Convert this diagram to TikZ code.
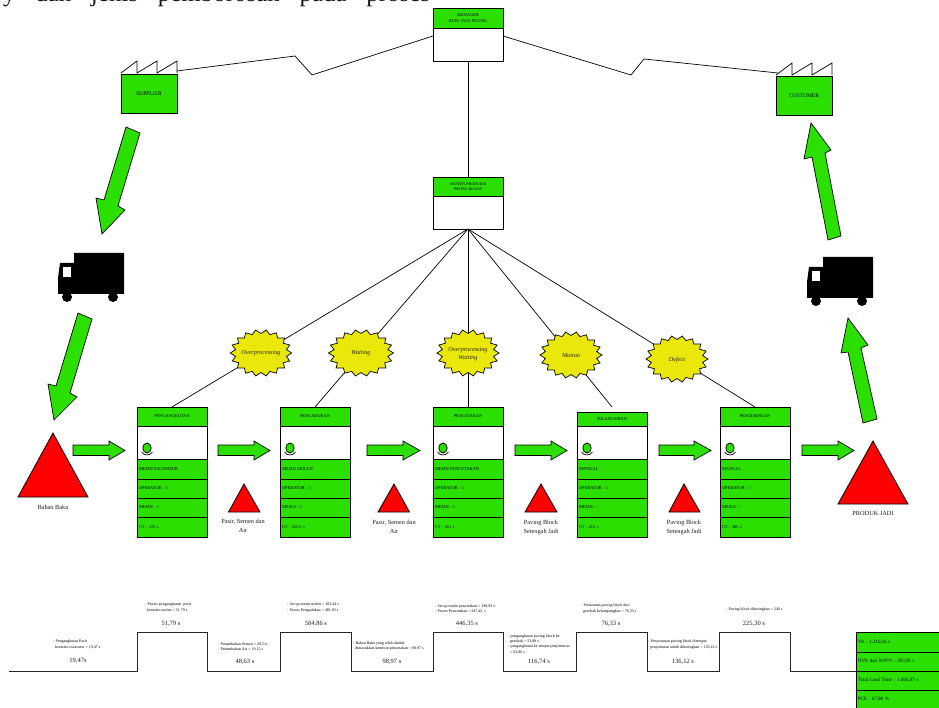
\documentclass[tikz,border=0pt]{standalone}
\usepackage{fontspec}
\setmainfont{Liberation Serif}
\usetikzlibrary{calc}
\definecolor{vsmgreen}{HTML}{2BE000}
\definecolor{vsmyellow}{HTML}{EAE80A}
\tikzset{
  boxbase/.style={draw=black,line width=0.8pt,rectangle,inner sep=0pt,outer sep=0pt,anchor=north west},
  headbox/.style={boxbase,fill=vsmgreen,minimum width=70pt,font=\fontsize{4.3}{5.6}\selectfont,align=center,text=black},
  bodybox/.style={boxbase,fill=white,minimum width=70pt},
  rowbox/.style={boxbase,fill=vsmgreen,text width=66pt,inner xsep=2pt,align=left,font=\fontsize{4.4}{5.5}\selectfont,text=black},
  sumbox/.style={boxbase,fill=vsmgreen,text width=79pt,inner xsep=2pt,align=left,minimum height=19pt,font=\fontsize{5}{6}\selectfont,text=black},
  fatarrow/.style={draw=black,fill=vsmgreen,line width=0.7pt,line join=miter},
  tri/.style={draw=black,fill=red,line width=0.8pt,line join=miter},
  thinline/.style={draw=black,line width=0.7pt},
  burst/.style={draw=black,fill=vsmyellow,line width=0.7pt,line join=miter},
  burstlabel/.style={inner sep=0pt,align=center,font=\fontsize{6.2}{8}\selectfont\itshape,text=black!85!vsmyellow},
  labelsmall/.style={inner sep=0pt,align=center,font=\fontsize{6.3}{9}\selectfont,text=black!90},
  tiny/.style={inner sep=0pt,anchor=west,align=left,font=\fontsize{4}{5.3}\selectfont,text=black},
  timeval/.style={inner sep=0pt,font=\fontsize{6.5}{8}\selectfont,text=black!90},
  factory/.style={boxbase,fill=vsmgreen,minimum width=56pt,minimum height=39pt,font=\fontsize{5.5}{7}\selectfont,text=black},
}
\newcommand{\procbox}[8]{%
  \node[headbox,minimum height={426-#3},] (#1head) at (#2,#3) {#4};
  \node[bodybox,minimum height=33pt] (#1body) at (#2,426) {};
  \node[rowbox,minimum height=20pt] (#1a) at (#2,459) {#5};
  \node[rowbox,minimum height=19pt] (#1b) at (#2,479) {#6};
  \node[rowbox,minimum height=19pt] (#1c) at (#2,498) {#7};
  \node[rowbox,minimum height=20pt] (#1d) at (#2,517) {#8};
  \draw[fill=vsmgreen,line width=0.7pt] (#2+10,448) ellipse (4.2 and 5);
  \draw[line width=0.7pt] (#2+4.5,452) .. controls (#2+7,456) and (#2+13,456) .. (#2+15.5,452);
}
\newcommand{\harrow}[3]{%
  \draw[fatarrow] (#1,445) -- (#2,445) -- (#2,441) -- (#3,450.5) -- (#2,460) -- (#2,455.5) -- (#1,455.5) -- cycle;
}
\newcommand{\burstshape}[4]{%
  \draw[burst] plot[samples=37,domain=0:360] ({#1+#3*(0.92+0.08*cos(18*\x))*cos(\x)},{#2+#4*(0.92+0.08*cos(18*\x))*sin(\x)}) -- cycle;
}
\newcommand{\truck}[2]{%
  \begin{scope}[shift={(#1,#2)}]
    \fill[black] (74,253) -- (124,253) -- (124,294) -- (58,294) -- (58,278) -- (60,263) -- (74,263) -- cycle;
    \fill[black] (67,297) circle (5);
    \fill[black] (113,297) circle (5);
    \fill[white] (63,267) rectangle (71,277);
  \end{scope}
}
\newcommand{\teeth}[2]{%
  \draw[thinline,line join=miter] (#1,#2) -- (#1+16,#2-12) -- (#1+16,#2) -- (#1+36,#2-12) -- (#1+36,#2) -- (#1+56,#2-12) -- (#1+56,#2);
}
\begin{document}
\begin{tikzpicture}[x=1pt,y=-1pt]
\useasboundingbox (0,0) rectangle (939,708);
\clip (0,0) rectangle (939,708);

\node[inner sep=0pt,anchor=base west,font=\fontsize{25}{25}\selectfont,text=black!90] (pagetext) at (3,2)
  {\makebox[427pt][s]{y\hfil dan\hfil jenis\hfil pemborosan\hfil pada\hfil proses}};

\node[bodybox,minimum height=33pt] (manbody) at (433,28) {};
\node[headbox,minimum height=20pt] (manhead) at (433,8) {MANAGER\\RIAU JAYA PAVING};
\node[bodybox,minimum height=33pt] (asbody) at (433,196) {};
\node[headbox,minimum height=19pt,font=\fontsize{4.1}{5.6}\selectfont\itshape] (ashead) at (433,177) {ASISTEN PRODUKSI\\PAVING BLOCK};
\draw[thinline] (manbody.south) -- (ashead.north);

\teeth{121}{73}
\node[factory] (sup) at (121,74) {SUPPLIER};
\teeth{776}{75}
\node[factory] (cus) at (776,76) {COSTUMER};

\coordinate (manl) at (433,36);
\coordinate (manr) at (503,36);
\coordinate (supc) at (177,71);
\coordinate (cusc) at (778,73);
\draw[thinline,line join=miter] (manl) -- (312,75) -- (295,56) -- (supc);
\draw[thinline,line join=miter] (manr) -- (631,75) -- (644,59) -- (cusc);

\procbox{p}{137}{407}{PENGANGKUTAN}{MESIN \textit{ESCAPATOR}}{OPERATOR : 1}{MESIN : 1}{CT : 125 s}
\procbox{q}{280}{407}{PENGADUKAN}{MESIN MOLEN}{OPERATOR : 1}{MESIN : 1}{CT : 525,6 s}
\procbox{r}{433}{407}{PENCETAKAN}{MESIN PENCETAKAN}{OPERATOR : 1}{MESIN : 1}{CT : 351 s}
\procbox{s}{577}{412}{PELANGSIRAN}{MANUAL}{OPERATOR : 1}{MESIN : -}{CT : 215 s}
\procbox{t}{720}{407}{PENGERINGAN}{MANUAL}{OPERATOR : 1}{MESIN : -}{CT : 385 s}

\coordinate (endp) at (172,407);
\coordinate (endq) at (315,407);
\coordinate (endr) at (468,407);
\coordinate (ends) at (612,407);
\coordinate (endt) at (755,407);
\foreach \e in {endp,endq,endr,ends,endt} \draw[thinline] (asbody.south) -- (\e);

\burstshape{261}{353}{30.7}{23.3}
\node[burstlabel] (w1) at (261,353.5) {Overprocessing};
\burstshape{361}{353}{32.5}{23.3}
\node[burstlabel] (w2) at (361,353.5) {Waiting};
\burstshape{468}{353}{31}{23.3}
\node[burstlabel] (w3) at (468,354) {Overprocessing\\Waiting};
\burstshape{571}{355}{31}{23.3}
\node[burstlabel] (w4) at (571,355) {Motion};
\burstshape{677}{359}{31}{23.3}
\node[burstlabel] (w5) at (677,359.5) {Defect};

\draw[fatarrow] (126,127) -- (140,133) -- (118,206) -- (125,210) -- (102,234) -- (96,198) -- (104,200) -- cycle;
\draw[fatarrow] (78,313) -- (92,319) -- (70,393) -- (77,397) -- (54,420) -- (48,384) -- (56,386) -- cycle;
\draw[fatarrow] (863,423) -- (877,419) -- (861,348) -- (868,345) -- (848,318) -- (841,353) -- (848,352) -- cycle;
\draw[fatarrow] (828,240) -- (841,236) -- (825,153) -- (831,150) -- (811,123) -- (804,159) -- (812,157) -- cycle;
\harrow{73}{109}{125}
\harrow{218}{254}{270}
\harrow{367}{403}{420}
\harrow{515}{551}{567}
\harrow{659}{694}{711}
\harrow{802}{838}{854}

\truck{0}{0}
\truck{749}{4}

\draw[tri] (53,433) -- (88,497) -- (18,497) -- cycle;
\node[labelsmall] (lab1) at (53,507.5) {Bahan Baku};
\draw[tri] (244,484) -- (260,512) -- (228.5,512) -- cycle;
\node[labelsmall] (lab2) at (243,526) {Pasir, Semen dan\\Air};
\draw[tri] (394,484) -- (409.5,512) -- (378,512) -- cycle;
\node[labelsmall] (lab3) at (394,527) {Pasir, Semen dan\\Air};
\draw[tri] (541,484) -- (557,512) -- (525,512) -- cycle;
\node[labelsmall] (lab4) at (541,527) {Paving Block\\Setengah Jadi};
\draw[tri] (684,484) -- (700,512) -- (669,512) -- cycle;
\node[labelsmall] (lab5) at (684,527) {Paving Block\\Setengah Jadi};
\draw[tri] (873,441) -- (908,504) -- (838,504) -- cycle;
\node[labelsmall] (lab6) at (873,513.5) {PRODUK JADI};

\node[sumbox,minimum height=20pt] (sa) at (856,632) {VA : 1.210,16 s};
\node[sumbox] (sb) at (856,652) {NVA dan NNVA : 593,91 s};
\node[sumbox] (sc) at (856,671) {Total Lead Time : 1.804,07 s};
\node[sumbox] (sd) at (856,690) {PCE : 67,08 \%};

\draw[draw=black!85,line width=0.9pt,line join=miter] (9,671) -- (137,671) -- (137,632) -- (207,632) -- (207,671) -- (280,671) -- (280,632) -- (351,632) -- (351,671) -- (433,671) -- (433,632) -- (503,632) -- (503,671) -- (576,671) -- (576,632) -- (647,632) -- (647,671) -- (719,671) -- (719,632) -- (790,632) -- (790,671) -- (sc.north west);

\node[tiny] (t1) at (53,644.5) {- Pengangkutan Pasir\\\hspace*{2pt}kemesin escavator = 19,47 s};
\node[timeval] (v1) at (78,661) {19,47s};
\node[tiny] (t2) at (145,607.5) {- Proses pengangkutan\ \ pasir\\\hspace*{2pt}kemesin molen = 51,79 s};
\node[timeval] (v2) at (171,624) {51,79 s};
\node[tiny] (t3) at (218,647) {- Penambahan Semen = 29,51s\\- Penambahan Air = 19,12 s};
\node[timeval] (v3) at (245,662) {48,63 s};
\node[tiny] (t4) at (287,607.5) {- Set up mesin molen = 102,44 s\\- Proses Pengadukan = 481,93 s};
\node[timeval] (v4) at (316,624) {584,86 s};
\node[tiny] (t5) at (353,646) {- Bahan Baku yang telah diaduk\\\hspace*{2pt}dimasukkan kemesin pencetakan = 98,97 s};
\node[timeval] (v5) at (392,662) {98,97 s};
\node[tiny] (t6) at (435,609) {- Set up mesin pencetakan = 198,93 s\\- Proses Pencetakan = 247,42\ \ s};
\node[timeval] (v6) at (467,624) {446,35 s};
\node[tiny] (t7) at (508,644) {- pengangkutan paving block ke\\\hspace*{2pt}gerobak = 53,88 s\\- pengangkutan ke tempat penjemuran\\\hspace*{2pt}= 62,86 s};
\node[timeval] (v7) at (539,662) {116,74 s};
\node[tiny] (t8) at (581,608.5) {- Penurunan paving block dari\\\hspace*{2pt}gerobak kelampungkan = 76,33 s};
\node[timeval] (v8) at (611,624) {76,33 s};
\node[tiny] (t9) at (648,644.5) {- Penyusunan paving block ditempat\\\hspace*{2pt}penjemuran untuk dikeringkan = 136,12 s};
\node[timeval] (v9) at (683,662) {136,12 s};
\node[tiny] (t10) at (726,610) {- Paving block dikeringkan = 240 s};
\node[timeval] (v10) at (754,624) {225,30 s};
\end{tikzpicture}
\end{document}
